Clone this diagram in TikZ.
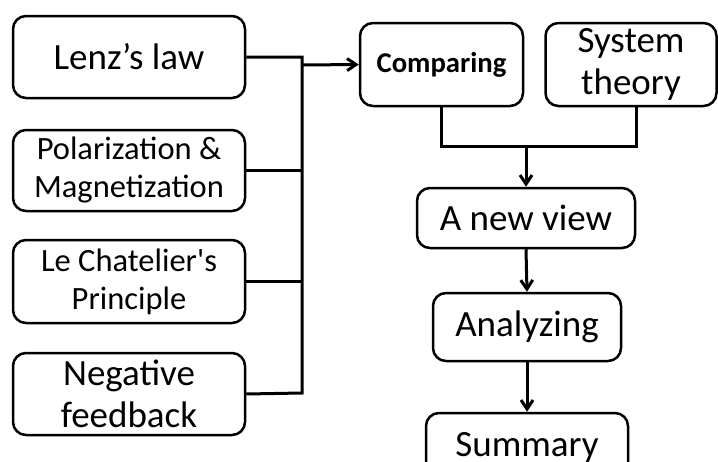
\documentclass[tikz,border=0pt]{standalone}
\usepackage{fontspec}
\setmainfont{Carlito}
\usetikzlibrary{arrows.meta}

\begin{document}
\begin{tikzpicture}[x=1pt, y=-1pt,
		every node/.style = {draw, align=center, rounded corners=13pt, line width=2.5pt, inner sep=0pt},
		big/.style = {font=\fontsize{37}{42}\selectfont},
		small/.style = {font=\fontsize{32.5}{38}\selectfont},
		link/.style = {line width=3pt},
		arr/.style = {link, -{Straight Barb[length=9pt,width=12pt]}}]
		\clip (0,0) rectangle (718,461);
		% sources on the left
		\node[big, minimum width=232pt, minimum height=82pt] (lenz) at (129,57) {Lenz’s law};
		\node[small, minimum width=232pt, minimum height=81pt] (polar) at (129,170.5) {Polarization \&\\Magnetization};
		\node[small, minimum width=232pt, minimum height=83pt] (chat) at (129,281.5) {Le Chatelier\textquotesingle s\\Principle};
		\node[big, minimum width=232pt, minimum height=82pt] (negfb) at (129,394) {Negative\\feedback};
		% flow on the right
		\node[font=\fontsize{28.7}{34}\selectfont\bfseries, minimum width=163pt, minimum height=83pt] (comp) at (441.5,64.5) {Comparing};
		\node[big, minimum width=171pt, minimum height=83pt] (sys) at (631,64.5) {System\\theory};
		\node[big, minimum width=218pt, minimum height=60pt] (view) at (526,218) {A new view};
		\node[big, minimum width=188pt, minimum height=68pt] (anal) at (527,327) {Analyzing};
		\node[big, minimum width=202pt, minimum height=68pt] (summ) at (527,447) {Summary};
		% bus
		\coordinate (bustop) at (302,57);
		\coordinate (busbot) at (302,393);
		\coordinate (busout) at (302,65);
		\coordinate (join) at (526,146);
		\draw[link] (lenz.east) -- (bustop) -- (busbot) -- (negfb.east);
		\draw[link] (polar.east) -- (polar.east -| bustop);
		\draw[link] (chat.east) -- (chat.east -| bustop);
		\draw[arr] (busout) -- (comp.west);
		\draw[link] (comp.south) |- (join) -| ([xshift=5pt]sys.south);
		\draw[arr] (join) -- (view.north);
		\draw[arr] (view.south) -- (anal.north);
		\draw[arr] (anal.south) -- (summ.north);
\end{tikzpicture}
\end{document}
